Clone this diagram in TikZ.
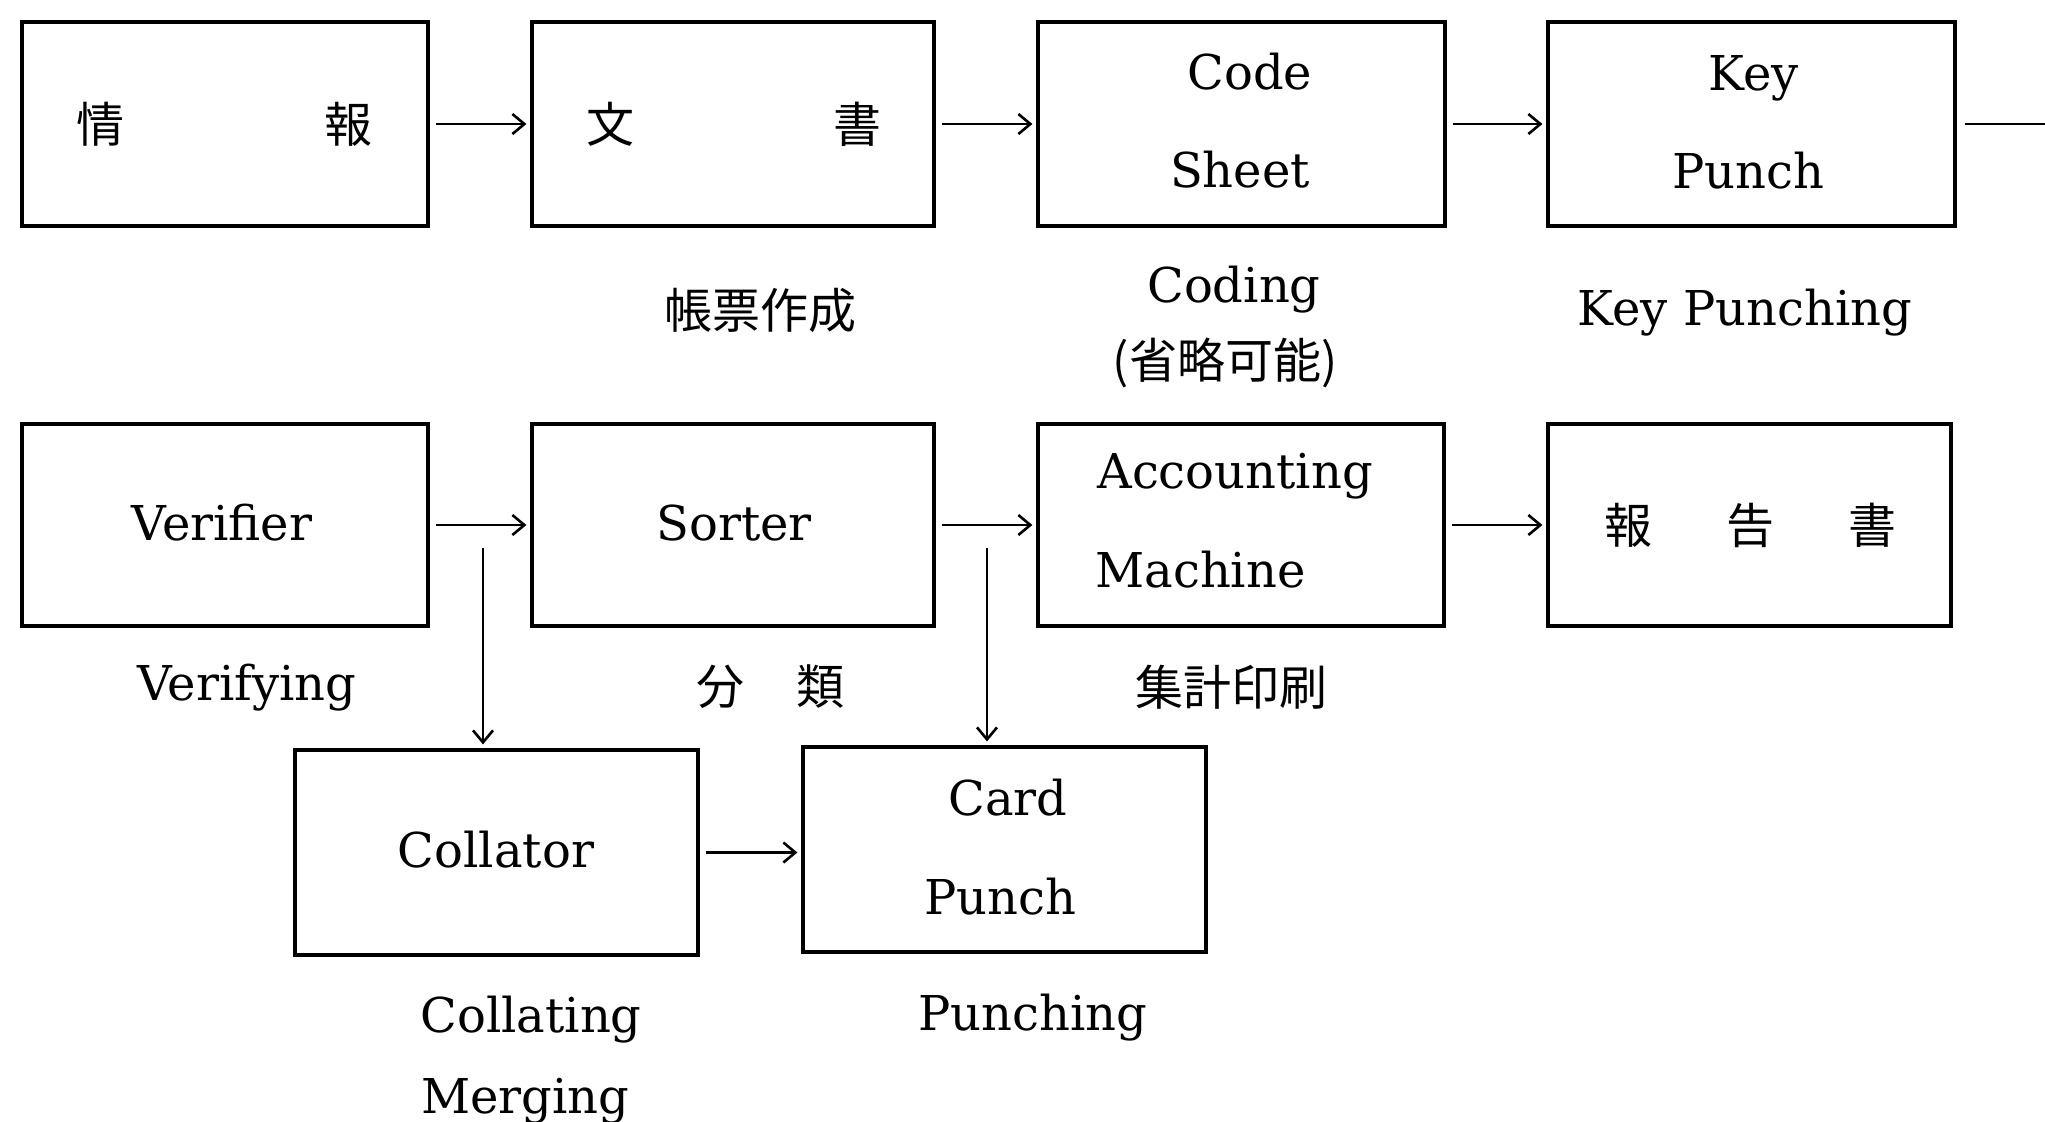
\documentclass[tikz,border=0pt]{standalone}
\usepackage{fontspec}
\setmainfont{DejaVu Serif}
\newfontfamily\cjk{Noto Sans CJK JP}
\usetikzlibrary{arrows.meta}
\begin{document}
\begin{tikzpicture}[x=0.5pt,y=-0.5pt,
  box/.style={draw, line width=1.6pt, inner sep=0pt, minimum height=102pt},
  lat/.style={font=\fontsize{24}{28}\selectfont, inner sep=0pt, anchor=base},
  latw/.style={font=\fontsize{24}{28}\selectfont, inner sep=0pt, anchor=base west},
  jp/.style={font=\cjk\fontsize{24}{28}\selectfont, inner sep=0pt},
  flow/.style={line width=1.3pt, -{Straight Barb[length=6pt,width=10pt,line width=1.3pt]}, shorten <=3pt, shorten >=2pt},
  plain/.style={line width=1.3pt, shorten <=4pt}
]
\useasboundingbox (0,0) rectangle (2045,1121);
% boxes
\node[box, minimum width=203pt] (b1) at (225,124) {};
\node[box, minimum width=201pt] (b2) at (733,124) {};
\node[box, minimum width=203.5pt] (b3) at (1241.5,124) {};
\node[box, minimum width=203.5pt] (b4) at (1751.5,124) {};
\node[box, minimum width=203pt, minimum height=101pt] (b5) at (225,525) {};
\node[box, minimum width=201pt, minimum height=101pt] (b6) at (733,525) {};
\node[box, minimum width=203pt, minimum height=101pt] (b7) at (1241,525) {};
\node[box, minimum width=201.5pt, minimum height=101pt] (b8) at (1749.5,525) {};
\node[box, minimum width=201.5pt, minimum height=102.5pt] (col) at (496.5,852.5) {};
\node[box, minimum width=201.5pt, minimum height=102.5pt] (cp) at (1004.5,849.5) {};
% texts in boxes
\node[jp] (t1a) at (100,124) {情};
\node[jp] (t1b) at (348,124) {報};
\node[jp] (t2a) at (610,124) {文};
\node[jp] (t2b) at (857,124) {書};
\node[lat] (t3a) at (1250,89) {Code};
\node[lat] (t3b) at (1240,187) {Sheet};
\node[lat] (t4a) at (1754,90) {Key};
\node[lat] (t4b) at (1748,188) {Punch};
\node[lat] (t5) at (222,540) {Verifier};
\node[lat] (t6) at (734,540) {Sorter};
\node[latw] (t7a) at (1097,488) {Accounting};
\node[latw] (t7b) at (1095,587) {Machine};
\node[jp] (t8a) at (1628,525) {報};
\node[jp] (t8b) at (1750,525) {告};
\node[jp] (t8c) at (1872,525) {書};
\node[lat] (t9) at (496,867) {Collator};
\node[lat] (t10a) at (1008,815) {Card};
\node[lat] (t10b) at (1000,914) {Punch};
% labels
\node[jp] (l2) at (760,310) {帳票作成};
\node[lat] (l3a) at (1234,302) {Coding};
\node[jp] (l3b) at (1225,363) {(省略可能)};
\node[lat] (l4) at (1745,325) {Key Punching};
\node[lat] (l5) at (247,700) {Verifying};
\node[jp] (l6a) at (720,687) {分};
\node[jp] (l6b) at (820,687) {類};
\node[jp] (l7) at (1231,687) {集計印刷};
\node[latw] (l9a) at (420,1032) {Collating};
\node[latw] (l9b) at (421,1113) {Merging};
\node[lat] (l10) at (1033,1030) {Punching};
% connectors
\draw[flow] (b1) -- (b2);
\draw[flow] (b2) -- (b3);
\draw[flow] (b3) -- (b4);
\coordinate (out) at (2045,124);
\draw[plain] (b4.east) -- (out);
\draw[flow] (b5) -- (b6);
\draw[flow] (b6) -- (b7);
\draw[flow] (b7) -- (b8);
\coordinate (d1) at (483,548);
\coordinate (d2) at (987,548);
\draw[flow, shorten <=0pt] (d1) -- (d1 |- col.north);
\draw[flow, shorten <=0pt] (d2) -- (d2 |- cp.north);
\draw[flow] (col.east) -- (col.east -| cp.west);
\end{tikzpicture}
\end{document}
